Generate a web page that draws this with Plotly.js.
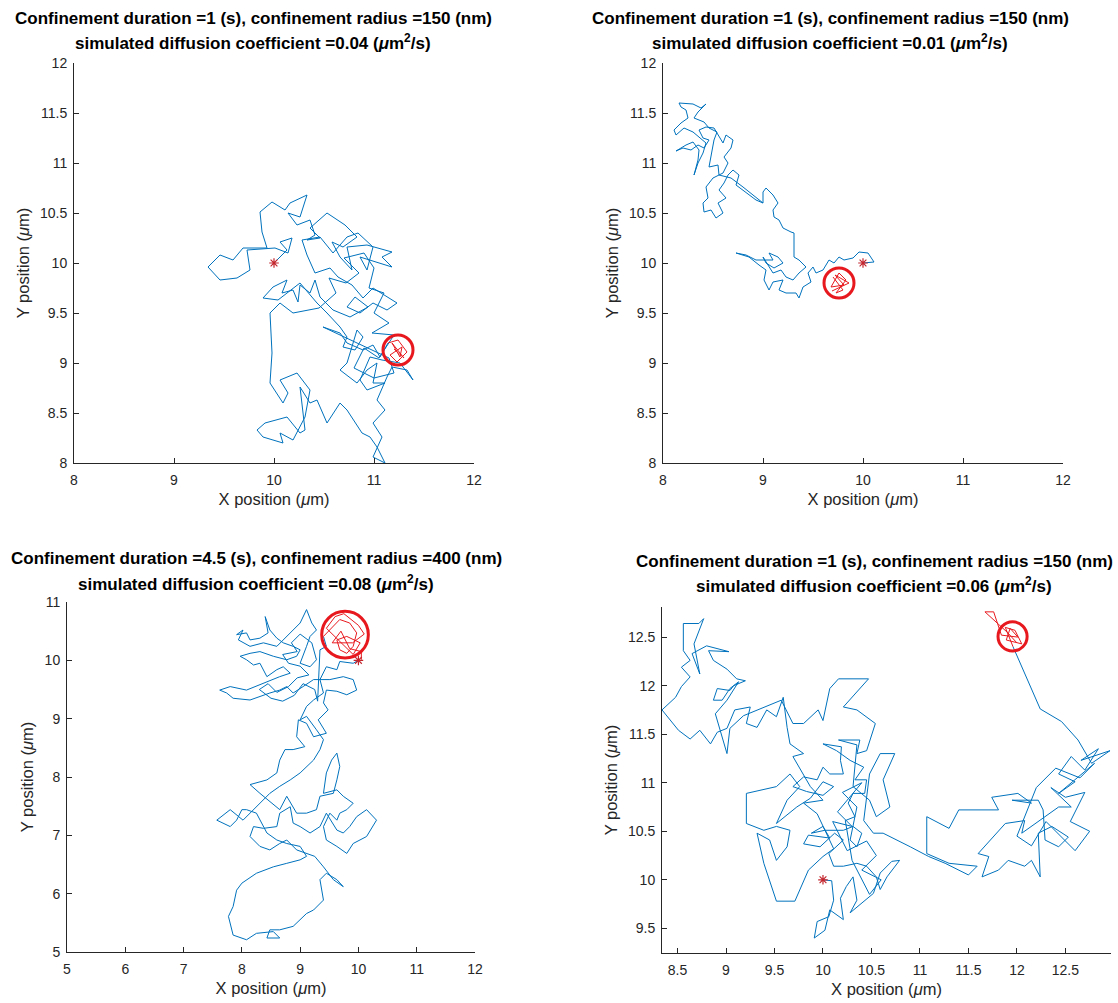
<!DOCTYPE html>
<html>
<head>
<meta charset="utf-8">
<script src="https://cdn.plot.ly/plotly-3.0.1.min.js"></script>
<style>
  html, body { margin: 0; padding: 0; background: #ffffff; }
  #chart { width: 1118px; height: 1003px; }
</style>
</head>
<body>
<div id="chart"></div>
<script>
// ---- Simulation parameters shown in the panel titles ----
const confinementDuration = ['1', '1', '4.5', '1'];      // s
const confinementRadius   = ['150', '150', '400', '150']; // nm
const diffusionCoeff      = ['0.04', '0.01', '0.08', '0.06']; // µm²/s

// ---- Starting points (µm) ----
const startX = [10, 10, 10, 10];
const startY = [10, 10, 10, 10];

// ---- Confinement zones (µm) ----
const zoneX = [11.24, 9.76, 9.77, 11.955];
const zoneY = [9.13, 9.80, 10.44, 12.507];
const zoneR = [0.15, 0.15, 0.40, 0.15];

// ---- Panel 1 trajectory (µm) ----
const track1X = [10.00,10.13,10.06,10.18,10.14,10.01,9.73,9.76,9.63,9.46,9.34,9.46,9.59,9.69,
  9.93,9.88,9.86,9.98,10.11,10.16,10.33,10.26,10.14,10.23,10.36,10.41,10.33,10.46,10.36,10.53,
  10.71,10.83,10.69,10.58,10.66,10.78,10.73,10.93,11.18,11.08,11.18,11.03,10.86,10.93,10.99,10.84,
  10.73,10.59,10.46,10.28,10.33,10.41,10.56,10.64,
  10.78,10.89,10.99,11.23,11.13,10.99,10.86,10.73,10.81,10.94,10.76,10.59,10.46,10.41,10.36,10.26,
  10.24,10.19,10.08,10.13,9.99,9.89,10.04,10.26,
  10.43,10.53,10.66,10.73,10.69,10.81,10.89,10.83,
  10.73,10.66,10.83,10.93,11.03,10.99,11.11,10.93,10.86,10.96,11.08,11.26,11.39,11.33,11.18,11.13,
  11.03,11.11,10.99,11.08,10.99,11.11,11.03,10.96,10.88,10.73,10.66,10.53,10.43,10.36,10.26,10.31,
  10.26,10.13,9.91,9.83,9.89,10.09,10.06,10.19,10.31,10.36,10.23,10.06,10.14,10.09,9.96,9.98,9.96,10.06,
  10.19,10.45,10.62,10.55,10.72,10.85,10.70,10.90,11.00,10.95,11.10,11.00,11.15,10.98,11.20,11.05,
  10.90,10.80,11.00,11.20,11.15,10.49,10.66,10.73,10.89,10.99,11.06,11.14];
const track1Y = [10.00,10.13,10.21,10.25,10.10,10.15,10.13,9.93,9.85,9.83,9.96,10.08,10.03,10.15,
  10.15,10.31,10.51,10.61,10.53,10.60,10.68,10.46,10.50,10.38,10.43,10.28,10.23,10.25,10.35,10.50,
  10.38,10.26,10.16,10.21,10.06,9.93,10.16,10.18,10.11,10.06,9.96,10.01,10.06,9.93,10.16,10.30,
  10.26,10.10,10.26,10.23,10.08,9.90,9.95,9.86,
  9.78,9.65,9.75,9.60,9.53,9.60,9.50,9.56,9.66,9.56,9.46,9.53,9.66,9.83,9.70,9.78,
  9.61,9.73,9.70,9.83,9.76,9.65,9.63,9.80,
  9.60,9.50,9.36,9.26,9.16,9.13,9.26,9.33,
  9.00,8.93,8.80,8.93,9.00,8.80,8.80,8.73,8.83,9.06,9.03,9.00,8.83,8.93,8.96,8.86,
  8.63,8.53,8.40,8.26,8.06,8.00,8.16,8.26,8.30,8.53,8.60,8.40,8.63,8.60,8.76,8.33,
  8.30,8.46,8.40,8.33,8.26,8.20,8.30,8.23,8.46,8.73,8.90,8.83,8.70,8.60,8.80,9.10,9.50,9.60,
  9.50,9.55,9.70,9.85,9.80,9.90,10.05,10.10,9.95,9.75,9.70,9.50,9.40,9.30,9.28,9.05,
  9.15,8.95,8.85,8.90,9.05,9.36,9.30,9.20,9.13,9.18,9.06,9.20];
const confined1X = [11.14,11.24,11.33,11.23,11.16,11.28,11.26,11.18,11.30,11.20];
const confined1Y = [9.20,9.23,9.11,9.01,9.08,9.16,9.06,9.20,9.05,9.14];

// ---- Panel 2 trajectory (µm) ----
const track2X = [10.00,10.11,10.05,9.96,9.90,9.81,9.76,9.71,9.66,9.60,9.53,9.50,9.45,9.48,9.40,
  9.36,9.33,9.23,9.16,9.20,9.10,9.06,9.01,9.03,8.96,8.86,8.73,8.83,8.93,9.10,9.06,9.15,9.20,9.11,
  9.03,9.00,9.10,9.18,9.23,9.30,9.36,9.43,9.36,9.31,9.31,9.28,9.20,9.16,9.11,9.10,9.15,9.10,9.03,
  9.00,9.00,8.93,8.73,8.76,8.70,8.65,8.61,8.56,8.63,8.55,8.60,8.53,8.48,8.41,8.40,8.45,8.43,8.50,
  8.60,8.65,8.61,8.68,8.70,8.63,8.60,8.55,8.51,8.43,8.36,8.40,8.46,8.41,8.35,8.28,8.20,8.13,8.23,
  8.30,8.36,8.35,8.31,8.35,8.40,8.43,8.30,8.21,8.13,8.11,8.18,8.25,8.23,8.18,8.16,8.30,8.38,8.43,
  8.35,8.31,8.41,8.46,8.54,8.51,8.48,8.46,8.55,8.56,8.68,8.80,9.00];
const track2Y = [10.00,10.01,10.10,10.11,10.05,10.03,10.06,10.00,10.03,9.93,9.90,9.96,9.90,9.81,9.76,
  9.65,9.70,9.70,9.73,9.83,9.81,9.73,9.83,9.93,9.98,10.06,10.10,10.08,10.03,10.03,10.10,10.06,10.00,9.95,
  10.00,10.06,9.90,9.93,9.86,9.83,9.90,9.96,10.03,10.06,10.30,10.31,10.35,10.43,10.46,10.53,10.60,10.68,10.75,
  10.71,10.60,10.63,10.78,10.88,10.93,10.88,10.80,10.73,10.65,10.60,10.50,10.45,10.53,10.51,10.60,10.65,10.76,10.85,
  10.90,11.00,11.06,11.15,11.23,11.28,11.20,11.28,11.35,11.36,11.33,11.25,11.23,11.15,11.18,11.13,11.15,11.12,11.18,
  11.21,11.13,11.03,10.88,11.00,11.10,11.20,11.31,11.35,11.28,11.33,11.40,11.45,11.53,11.56,11.60,11.59,11.55,11.59,
  11.51,11.45,11.41,11.35,11.31,11.23,11.06,10.96,10.98,10.88,10.85,10.76,10.60];
const confined2X = [9.70,9.80,9.73,9.83,9.76,9.68,9.81,9.72,9.86,9.69];
const confined2Y = [9.86,9.73,9.70,9.83,9.90,9.76,9.78,9.88,9.80,9.72];

// ---- Panel 3 trajectory (µm) ----
const track3X = [10.00,9.91,9.68,9.63,9.45,9.34,9.51,9.74,9.91,9.97,9.80,9.63,9.45,9.40,9.48,9.31,9.45,
  9.23,9.11,8.97,8.94,9.08,8.88,8.74,8.65,8.60,8.43,8.20,8.14,8.31,8.48,8.65,8.77,8.88,8.94,9.11,9.28,
  9.34,9.57,9.63,9.68,9.63,9.54,9.45,9.40,9.63,9.74,9.91,9.80,9.68,9.63,9.51,9.40,9.45,9.63,9.80,9.91,
  10.14,10.31,10.14,9.97,9.85,9.74,9.63,9.45,9.34,9.17,9.00,8.88,8.83,8.65,8.60,8.37,8.20,8.14,8.31,
  8.48,8.65,8.77,8.94,9.11,9.25,9.40,9.57,9.74,9.63,9.45,9.34,9.40,9.23,9.11,8.88,8.65,8.48,8.43,8.65,
  8.54,8.25,8.08,7.85,7.77,7.85,7.91,8.00,8.25,8.54,8.77,9.00,9.11,9.00,8.77,8.60,8.43,8.25,8.08,8.00,
  7.91,7.80,7.57,7.80,8.02,8.14,8.31,8.48,8.65,8.83,9.00,9.11,9.23,9.34,9.40,9.28,9.11,9.00,9.11,9.23,
  9.40,9.34,9.23,9.05,8.88,8.77,8.65,8.48,8.31,8.14,7.85,7.74,7.62,7.80,8.08,8.37,8.65,8.83,8.71,8.60,
  8.43,8.31,8.20,8.08,7.97,8.14,8.31,8.54,8.77,8.94,9.00,8.88,8.71,8.60,8.48,8.40,8.45,8.31,8.14,8.08,
  7.91,8.02,7.94,8.14,8.37,8.60,8.77,8.88,9.00,9.11,9.20,9.28,9.17,9.11,9.05,9.00,9.17,9.28,
  9.20,9.00,8.85,8.95,8.70,8.80,9.00,9.15,8.95,8.80,8.60,8.45,8.30,8.50,8.70,8.90,9.05,9.25,9.30,
  9.34,9.45,9.40];
const track3Y = [10.00,9.95,9.98,9.84,9.89,9.67,9.67,9.72,9.67,9.49,9.41,9.47,9.49,9.27,9.15,8.98,8.75,
  8.69,8.92,8.98,8.69,8.52,8.47,8.47,8.29,8.07,7.95,7.89,7.87,7.72,7.58,7.44,7.67,7.49,7.38,7.38,7.44,
  7.67,7.72,7.95,8.18,8.41,8.29,8.07,7.72,7.78,7.67,7.55,7.44,7.38,7.26,7.38,7.15,6.92,6.81,6.69,6.86,
  6.98,7.26,7.44,7.32,7.15,7.04,7.09,7.38,7.15,7.04,7.15,7.21,7.49,7.38,7.15,7.12,7.15,6.98,6.81,
  6.75,6.86,6.92,6.75,6.69,6.64,6.46,6.24,6.12,6.24,6.35,6.24,5.89,5.72,5.66,5.44,5.38,5.38,5.24,5.24,
  5.35,5.32,5.21,5.29,5.61,5.78,6.06,6.18,6.35,6.46,6.52,6.58,6.64,6.81,6.86,6.92,7.04,7.38,7.44,7.44,
  7.26,7.15,7.26,7.44,7.26,7.38,7.55,7.72,7.84,7.95,8.07,8.18,8.29,8.47,8.64,8.81,9.04,8.98,9.21,9.32,
  9.44,9.67,9.67,9.55,9.44,9.55,9.49,9.44,9.38,9.32,9.35,9.44,9.49,9.55,9.49,9.61,9.72,9.78,9.89,9.84,
  9.72,9.95,9.92,10.01,10.07,10.12,10.15,10.07,10.01,10.07,10.18,10.24,10.30,10.38,10.52,10.75,10.47,10.38,10.35,10.47,
  10.44,10.52,10.35,10.24,10.30,10.24,10.41,10.52,10.64,10.87,10.64,10.52,10.41,10.24,10.07,9.95,9.89,10.01,
  10.30,10.45,10.30,10.15,10.10,9.95,9.90,9.75,9.70,9.55,9.45,9.60,9.50,9.35,9.30,9.40,9.60,9.50,9.30,
  10.18,10.24,10.41];
const confined3X = [9.40,9.57,9.68,9.85,9.97,9.91,9.80,9.68,9.63,9.80,10.03,9.91,9.45,9.60,9.75,10.00,
  10.10,9.90,9.55,9.70,9.85,10.05,10.05];
const confined3Y = [10.41,10.58,10.70,10.64,10.47,10.24,10.12,10.18,10.35,10.41,10.30,10.10,10.55,10.75,
  10.80,10.60,10.45,10.30,10.30,10.50,10.20,10.15,10.01];

// ---- Panel 4 trajectory (µm) ----
const track4X = [10.00,10.09,10.11,10.06,9.94,9.91,10.02,10.07,10.21,10.18,10.24,10.31,10.35,10.28,10.52,
  10.59,10.71,10.79,10.66,10.59,10.55,10.45,10.35,10.21,10.11,10.06,10.21,10.12,9.97,9.80,9.85,10.07,
  10.00,9.88,10.02,10.21,10.31,10.40,10.35,10.28,
  10.35,10.20,10.40,10.15,10.30,10.10,10.25,10.45,10.55,10.40,10.60,10.48,10.30,
  10.23,10.33,10.26,10.31,10.43,10.45,10.33,10.42,10.28,
  10.14,10.00,10.19,10.18,10.21,10.07,10.00,9.94,9.80,9.69,9.83,10.00,10.11,10.00,9.87,9.73,9.52,9.63,
  9.76,9.66,9.52,9.21,9.21,9.39,9.52,9.66,9.63,9.52,9.45,9.32,9.39,9.52,9.71,9.85,10.00,10.11,9.94,
  9.80,10.00,9.87,9.69,9.80,9.66,9.63,9.59,9.52,9.42,9.32,9.21,9.25,9.09,9.01,8.91,8.84,8.73,8.63,
  8.51,8.34,8.48,8.54,8.63,8.54,8.63,8.56,8.56,8.72,8.77,8.67,8.73,8.65,8.80,9.03,8.82,8.87,9.01,
  9.11,9.20,9.08,9.04,8.91,8.87,8.96,9.04,9.13,9.01,8.89,9.01,9.04,9.18,9.39,9.57,9.69,9.80,9.95,
  10.00,10.07,10.16,10.47,10.21,10.35,10.54,10.45,10.35,10.38,10.16,10.35,10.31,10.48,10.55,10.69,
  10.62,10.74,10.59,10.48,10.42,10.52,10.62,10.90,11.09,11.26,11.50,11.59,11.30,11.07,11.07,11.30,
  11.40,11.81,11.74,12.01,12.15,11.95,12.22,12.27,12.29,12.43,12.53,12.36,12.22,12.24,12.15,12.08,
  11.91,11.81,11.64,11.71,11.60,11.88,12.08,12.05,12.43,12.56,
  12.35,12.50,12.70,12.55,12.75,12.60,12.45,12.30,12.15,12.00,12.20,12.40,12.65,12.80,
  12.43,12.60,12.43,12.56,12.70,12.84,
  12.66,12.96,12.77,12.63,12.46,12.24,11.96];
const track4Y = [10.00,9.99,9.79,9.62,9.57,9.40,9.48,9.69,9.59,9.81,9.93,10.03,9.79,9.66,9.86,
  10.07,10.19,10.20,10.03,9.90,10.03,10.14,10.17,10.14,10.14,10.27,10.41,10.48,10.34,10.37,10.46,10.43,
  10.55,10.48,10.51,10.51,10.55,10.48,10.34,10.41,
  10.75,10.90,11.00,10.70,10.55,10.60,10.30,10.40,10.25,10.10,10.00,9.85,10.20,
  10.61,10.65,10.79,10.89,10.89,11.03,11.03,11.16,11.23,
  11.33,11.40,11.37,11.23,11.09,11.09,11.16,11.03,11.06,10.96,10.91,10.87,10.96,11.01,10.84,10.75,10.58,10.82,
  10.96,11.09,10.96,10.89,10.58,10.51,10.55,10.51,10.34,10.20,10.41,10.48,10.17,9.78,9.78,10.10,10.24,10.32,10.68,
  10.79,10.82,10.96,11.27,11.30,11.40,11.57,11.88,11.68,11.75,11.57,11.61,11.78,11.75,11.56,11.52,11.40,11.54,11.45,
  11.54,11.75,11.88,11.99,12.09,12.19,12.26,12.36,12.64,12.64,12.69,12.43,12.12,12.33,12.41,12.35,12.36,12.26,12.17,
  12.07,12.05,12.00,11.95,11.97,11.85,11.85,11.97,12.04,11.85,11.71,11.30,11.56,11.69,11.78,11.85,11.61,11.61,11.75,
  11.64,11.97,12.07,12.07,11.78,11.75,11.61,11.33,11.30,11.44,11.44,11.39,10.96,10.82,10.65,10.75,
  11.03,11.30,11.30,11.09,10.61,10.48,10.48,10.34,10.24,10.17,10.05,10.14,10.17,10.27,10.65,10.53,
  10.72,10.72,10.85,10.89,10.79,10.82,10.82,10.72,10.41,10.34,10.44,10.55,10.48,10.03,10.20,10.14,
  10.20,10.10,10.03,10.24,10.27,10.58,10.61,10.48,10.75,10.75,
  10.95,10.85,10.90,10.60,10.50,10.30,10.45,10.60,10.35,10.45,10.95,11.15,11.05,11.20,
  10.89,11.01,11.09,11.27,11.13,11.35,
  11.23,11.33,11.20,11.44,11.63,11.76,12.40];
const confined4X = [11.96,11.88,11.98,12.05,11.89,11.93,12.01,11.84,11.76,11.67,11.90,12.00];
const confined4Y = [12.40,12.60,12.57,12.43,12.47,12.59,12.50,12.52,12.76,12.76,12.55,12.44];

// ---- Axis ranges and tick spacing per panel ----
const xRanges = [[8, 12], [8, 12], [5, 12], [8.34, 12.97]];
const yRanges = [[8, 12], [8, 12], [5, 11], [9.246, 12.81]];
const xDticks = [1, 1, 1, 0.5];
const yDticks = [0.5, 0.5, 1, 0.5];

const tracksX = [track1X, track2X, track3X, track4X];
const tracksY = [track1Y, track2Y, track3Y, track4Y];
const confinedX = [confined1X, confined2X, confined3X, confined4X];
const confinedY = [confined1Y, confined2Y, confined3Y, confined4Y];

// ---- Page geometry (pixels) ----
const W = 1118, H = 1003;
const boxes = [            // [left, right, top, bottom]
  [74, 474, 63, 463],
  [663, 1063, 63, 463],
  [67, 475, 602, 952],
  [662, 1111, 607, 953]
];
const titleCenters = [253, 830, 256, 874];
const titleRows = [[18, 42], [18, 42], [558, 583], [561, 585]];

const FONT = '"Liberation Sans", Arial, Helvetica, sans-serif';
const INK = '#262626';
const BLUE = '#0072BD';
const RED = '#e8191e';

const traces = [];
const layout = {
  width: W, height: H,
  margin: {l: 0, r: 0, t: 0, b: 0},
  paper_bgcolor: '#ffffff', plot_bgcolor: '#ffffff',
  showlegend: false,
  font: {family: FONT, color: INK},
  shapes: [], annotations: []
};

for (let i = 0; i < 4; i++) {
  const n = i === 0 ? '' : String(i + 1);
  const xa = 'x' + n, ya = 'y' + n;
  const [l, r, t, b] = boxes[i];

  const axisCommon = {
    showline: true, linecolor: INK, linewidth: 1,
    ticks: 'inside', ticklen: 5, tickwidth: 1, tickcolor: INK,
    showgrid: false, zeroline: false, mirror: false,
    tickfont: {family: FONT, size: 14, color: INK},
    fixedrange: true
  };
  layout['xaxis' + n] = Object.assign({}, axisCommon, {
    domain: [l / W, r / W], anchor: ya,
    range: xRanges[i], dtick: xDticks[i], tick0: 0,
    ticklabelstandoff: 4,
    title: {text: 'X position (<i>μ</i>m)', font: {family: FONT, size: 16.5, color: INK}, standoff: 6}
  });
  layout['yaxis' + n] = Object.assign({}, axisCommon, {
    domain: [1 - b / H, 1 - t / H], anchor: xa,
    range: yRanges[i], dtick: yDticks[i], tick0: 0,
    ticklabelstandoff: 3,
    title: {text: 'Y position (<i>μ</i>m)', font: {family: FONT, size: 16.5, color: INK}, standoff: 6}
  });

  traces.push({
    type: 'scatter', mode: 'lines', xaxis: xa, yaxis: ya,
    x: tracksX[i], y: tracksY[i],
    line: {color: BLUE, width: 1}, hoverinfo: 'skip'
  });
  traces.push({
    type: 'scatter', mode: 'lines', xaxis: xa, yaxis: ya,
    x: confinedX[i], y: confinedY[i],
    line: {color: RED, width: 1}, hoverinfo: 'skip'
  });
  traces.push({
    type: 'scatter', mode: 'markers', xaxis: xa, yaxis: ya,
    x: [startX[i]], y: [startY[i]],
    marker: {symbol: 'asterisk-open', size: 8, color: '#c4262e', line: {color: '#c4262e', width: 1.2}},
    hoverinfo: 'skip'
  });

  layout.shapes.push({
    type: 'circle', xref: xa, yref: ya,
    x0: zoneX[i] - zoneR[i], x1: zoneX[i] + zoneR[i],
    y0: zoneY[i] - zoneR[i], y1: zoneY[i] + zoneR[i],
    line: {color: RED, width: 3}
  });

  const line1 = 'Confinement duration =' + confinementDuration[i] +
                ' (s), confinement radius =' + confinementRadius[i] + ' (nm)';
  const line2 = 'simulated diffusion coefficient =' + diffusionCoeff[i] +
                ' (<i>μ</i>m<sup>2</sup>/s)';
  [line1, line2].forEach((txt, k) => {
    layout.annotations.push({
      xref: 'paper', yref: 'paper', x: titleCenters[i] / W, y: 1 - titleRows[i][k] / H,
      xanchor: 'center', yanchor: 'middle', showarrow: false,
      text: txt, font: {family: FONT, size: 17, weight: 'bold', color: '#000000'}
    });
  });
}

Plotly.newPlot('chart', traces, layout, {displayModeBar: false, staticPlot: true});
</script>
</body>
</html>
